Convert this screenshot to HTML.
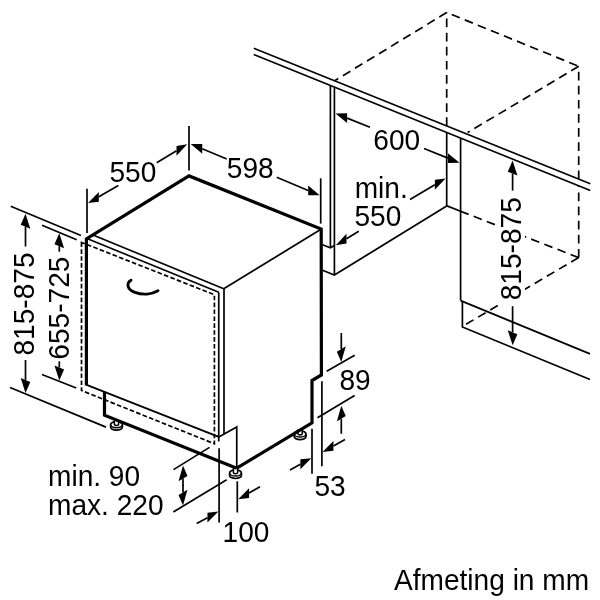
<!DOCTYPE html>
<html lang="nl">
<head>
<meta charset="utf-8">
<title>Afmeting in mm</title>
<style>
html,body{margin:0;padding:0;background:#fff;}
body{width:600px;height:600px;overflow:hidden;}
svg{display:block;}
svg text{font-family:"Liberation Sans",Arial,Helvetica,sans-serif;font-size:28.1px;fill:#000;stroke:none;}
</style>
</head>
<body>
<svg width="600" height="600" viewBox="0 0 600 600">
<rect x="0" y="0" width="600" height="600" fill="#fff"/>
<g stroke="#000" fill="none" opacity="0.999">
<path d="M446.7,12.5 L335,80.5" stroke-width="1.7" stroke-dasharray="8.7 5.4"/>
<path d="M446.7,12.5 L578.7,66.3" stroke-width="1.7" stroke-dasharray="8.7 5.4" stroke-dashoffset="8.7"/>
<path d="M446.7,126 L446.7,12.5" stroke-width="1.7" stroke-dasharray="8.7 5.4"/>
<path d="M578.7,66.3 L467.6,132.6" stroke-width="1.7" stroke-dasharray="8.7 5.4"/>
<path d="M578.7,66.3 L578.7,182" stroke-width="1.7" stroke-dasharray="8.7 5.4" stroke-dashoffset="8.7"/>
<path d="M578.7,257.6 L578.7,186" stroke-width="1.7" stroke-dasharray="8.7 5.4"/>
<path d="M460.5,211.2 L500,226.6" stroke-width="1.7" stroke-dasharray="8.7 5.4"/>
<path d="M578.7,257.6 L524,236.3" stroke-width="1.7" stroke-dasharray="8.7 5.4"/>
<path d="M578.7,257.6 L524,289.7" stroke-width="1.7" stroke-dasharray="8.7 5.4"/>
<path d="M466,324.3 L500,304.2" stroke-width="1.7" stroke-dasharray="8.7 5.4"/>
<line x1="447" y1="205.9" x2="460.5" y2="211.2" stroke-width="1.7"/>
<polygon points="253.75,48.2 590.3,183.8 590.3,190.5 253.75,54.5" fill="#fff" stroke="none"/>
<line x1="253.75" y1="48.2" x2="590.3" y2="183.8" stroke-width="1.7"/>
<line x1="253.75" y1="54.5" x2="590.3" y2="190.5" stroke-width="1.7"/>
<line x1="330.4" y1="86" x2="330.4" y2="247.6" stroke-width="1.7"/>
<line x1="334.4" y1="87.5" x2="334.4" y2="275" stroke-width="1.7"/>
<path d="M322.5,244.8 L330.4,247.8 L334.4,245.4" stroke-width="1.7"/>
<path d="M322.5,270.2 L334.4,275 L446.7,206" stroke-width="1.7"/>
<line x1="446.7" y1="132.5" x2="446.7" y2="206" stroke-width="1.7"/>
<line x1="460.6" y1="138" x2="460.6" y2="300.5" stroke-width="1.7"/>
<path d="M460.6,300.6 L590,353.9" stroke-width="1.7"/>
<path d="M462.4,301.2 L462.4,327 L590,379.5" stroke-width="1.7"/>
<g transform="translate(116.5 425.9)"><path d="M-5.9,-1.3 L-5.9,1.2 A5.9,3.1 0 0 0 5.9,1.2 L5.9,-1.3 A5.9,3.1 0 0 0 -5.9,-1.3 Z" fill="#fff" stroke-width="1.7"/><path d="M-5.9,-1.3 A5.9,3.1 0 0 0 5.9,-1.3" stroke-width="1.5"/><path d="M-2.1,-6 L-2.1,-1.6 A2.1,1.2 0 0 0 2.1,-1.6 L2.1,-6" fill="#fff" stroke-width="1.5"/></g>
<g transform="translate(235.5 474.2)"><path d="M-5.9,-1.3 L-5.9,1.2 A5.9,3.1 0 0 0 5.9,1.2 L5.9,-1.3 A5.9,3.1 0 0 0 -5.9,-1.3 Z" fill="#fff" stroke-width="1.7"/><path d="M-5.9,-1.3 A5.9,3.1 0 0 0 5.9,-1.3" stroke-width="1.5"/><path d="M-2.1,-6 L-2.1,-1.6 A2.1,1.2 0 0 0 2.1,-1.6 L2.1,-6" fill="#fff" stroke-width="1.5"/></g>
<g transform="translate(300.1 435.3)"><path d="M-5.9,-1.3 L-5.9,1.2 A5.9,3.1 0 0 0 5.9,1.2 L5.9,-1.3 A5.9,3.1 0 0 0 -5.9,-1.3 Z" fill="#fff" stroke-width="1.7"/><path d="M-5.9,-1.3 A5.9,3.1 0 0 0 5.9,-1.3" stroke-width="1.5"/><path d="M-2.1,-6 L-2.1,-1.6 A2.1,1.2 0 0 0 2.1,-1.6 L2.1,-6" fill="#fff" stroke-width="1.5"/></g>
<line x1="93" y1="235" x2="223.75" y2="288.75" stroke-width="1.7"/>
<line x1="223.75" y1="288.75" x2="320.6" y2="229.6" stroke-width="1.7"/>
<line x1="87.5" y1="238.7" x2="218.75" y2="292.25" stroke-width="1.7"/>
<line x1="224" y1="288.75" x2="224" y2="433.9" stroke-width="1.7"/>
<line x1="218.75" y1="292.25" x2="218.75" y2="441.5" stroke-width="1.7"/>
<path d="M218.75,436.9 L236.75,426.9 L236.75,467.5" stroke-width="1.7"/>
<path d="M81.5,242.4 L81.5,390.5 L214.4,443.75 L214.4,294.7 Z" stroke-width="1.7" stroke-dasharray="4.6 2.3"/>
<path d="M86,384.6 L218.75,436.9" stroke-width="1.85"/>
<path d="M236.75,468.2 L104.5,415.2 L104.5,391.8" stroke-width="3.2"/>
<path d="M86.4,385.6 L86.4,238.9 L189,175.9 L321.2,229.1 L321.4,375 L312,380.5 L312,422.8 L236.75,468.2" stroke-width="3.2"/>
<path d="M131,280.2 C126,283.2 127,289.4 135,292.4 C143,295.4 152,294.4 158,290.8" stroke-width="2.9" stroke-linecap="round"/>
<line x1="87" y1="188.7" x2="87" y2="233" stroke-width="1.7"/>
<line x1="189" y1="126" x2="189" y2="170.6" stroke-width="1.7"/>
<line x1="118.3" y1="185.6" x2="98.84" y2="196.78" stroke-width="1.7"/>
<polygon points="88.00,203.00 98.84,201.68 98.84,191.88" fill="#000" stroke="none"/>
<line x1="156.7" y1="162.8" x2="176.51" y2="150.78" stroke-width="1.7"/>
<polygon points="187.20,144.30 176.51,155.68 176.51,145.88" fill="#000" stroke="none"/>
<text transform="translate(109.5 182.4) scale(1 1.025)">550</text>
<line x1="320.7" y1="178.3" x2="320.7" y2="223.6" stroke-width="1.7"/>
<line x1="226.7" y1="159" x2="202.24" y2="148.81" stroke-width="1.7"/>
<polygon points="190.70,144.00 202.24,153.71 202.24,143.91" fill="#000" stroke="none"/>
<line x1="276.7" y1="177.2" x2="308.18" y2="190.45" stroke-width="1.7"/>
<polygon points="319.70,195.30 308.18,195.35 308.18,185.55" fill="#000" stroke="none"/>
<text transform="translate(226.8 178) scale(1 1.025)">598</text>
<line x1="370" y1="127.2" x2="347.12" y2="118.11" stroke-width="1.7"/>
<polygon points="335.50,113.50 347.12,123.01 347.12,113.21" fill="#000" stroke="none"/>
<line x1="424" y1="148.5" x2="447.91" y2="158.13" stroke-width="1.7"/>
<polygon points="459.50,162.80 447.91,163.03 447.91,153.23" fill="#000" stroke="none"/>
<text transform="translate(373.3 149.6) scale(1 1.025)">600</text>
<line x1="358.75" y1="231.25" x2="346.48" y2="238.71" stroke-width="1.7"/>
<polygon points="335.80,245.20 346.48,243.61 346.48,233.81" fill="#000" stroke="none"/>
<line x1="410" y1="199.5" x2="434.85" y2="184.77" stroke-width="1.7"/>
<polygon points="445.60,178.40 434.85,189.67 434.85,179.87" fill="#000" stroke="none"/>
<text transform="translate(354.7 197.5) scale(1 1.025)">min.</text>
<text transform="translate(354.4 225.9) scale(1 1.025)">550</text>
<line x1="10.7" y1="206.3" x2="81" y2="235.5" stroke-width="1.7"/>
<line x1="10" y1="387.5" x2="106" y2="427.1" stroke-width="1.7"/>
<line x1="25.5" y1="246.5" x2="25.5" y2="226.7" stroke-width="1.7"/>
<polygon points="25.50,213.70 30.32,228.66 20.68,224.74" fill="#000" stroke="none"/>
<line x1="25.5" y1="360" x2="25.5" y2="380.0" stroke-width="1.7"/>
<polygon points="25.50,393.00 30.32,381.96 20.68,378.04" fill="#000" stroke="none"/>
<text transform="translate(34 355.5) rotate(-90) scale(1 1.025)">815-875</text>
<line x1="42" y1="225.3" x2="76.7" y2="239.7" stroke-width="1.7"/>
<line x1="42" y1="374.5" x2="76.25" y2="388" stroke-width="1.7"/>
<line x1="59.3" y1="251.7" x2="59.3" y2="246.3" stroke-width="1.7"/>
<polygon points="59.30,233.30 64.12,248.26 54.48,244.34" fill="#000" stroke="none"/>
<line x1="59.3" y1="361.3" x2="59.3" y2="367.5" stroke-width="1.7"/>
<polygon points="59.30,380.50 64.12,369.46 54.48,365.54" fill="#000" stroke="none"/>
<text transform="translate(68.75 359.7) rotate(-90) scale(1 1.025)">655-725</text>
<rect x="499" y="196" width="26" height="106" fill="#fff" stroke="none"/>
<line x1="512.6" y1="190.6" x2="512.6" y2="173.6" stroke-width="1.7"/>
<polygon points="512.60,160.60 517.42,175.56 507.78,171.64" fill="#000" stroke="none"/>
<line x1="512.6" y1="306.2" x2="512.6" y2="332.2" stroke-width="1.7"/>
<polygon points="512.60,345.20 517.42,334.16 507.78,330.24" fill="#000" stroke="none"/>
<text transform="translate(521.25 300.3) rotate(-90) scale(1 1.025)">815-875</text>
<line x1="326.7" y1="371.2" x2="354.7" y2="355.2" stroke-width="1.7"/>
<line x1="317.5" y1="417.8" x2="354.6" y2="395.6" stroke-width="1.7"/>
<line x1="341.3" y1="333" x2="341.3" y2="349.0" stroke-width="1.7"/>
<polygon points="341.30,362.00 345.76,346.32 336.84,351.68" fill="#000" stroke="none"/>
<line x1="341.3" y1="433.75" x2="341.3" y2="418.7" stroke-width="1.7"/>
<polygon points="341.30,405.70 345.76,416.02 336.84,421.38" fill="#000" stroke="none"/>
<text transform="translate(339.5 390) scale(1 1.025)">89</text>
<line x1="312" y1="428.75" x2="312" y2="473.75" stroke-width="1.7"/>
<line x1="321.9" y1="381.25" x2="321.9" y2="466.25" stroke-width="1.7"/>
<line x1="345" y1="439.5" x2="333.43" y2="445.93" stroke-width="1.7"/>
<polygon points="322.50,452.00 333.43,450.83 333.43,441.03" fill="#000" stroke="none"/>
<line x1="290" y1="470" x2="300.37" y2="464.26" stroke-width="1.7"/>
<polygon points="311.30,458.20 300.37,469.16 300.37,459.36" fill="#000" stroke="none"/>
<text transform="translate(314.5 496) scale(1 1.025)">53</text>
<line x1="173.5" y1="469.6" x2="209.5" y2="447.4" stroke-width="1.7"/>
<line x1="173.3" y1="512" x2="226.7" y2="479.7" stroke-width="1.7"/>
<line x1="183" y1="486" x2="183.0" y2="478.6" stroke-width="1.7"/>
<polygon points="183.00,465.60 187.46,475.92 178.54,481.28" fill="#000" stroke="none"/>
<line x1="183" y1="485" x2="183.0" y2="492.4" stroke-width="1.7"/>
<polygon points="183.00,505.40 187.46,489.72 178.54,495.08" fill="#000" stroke="none"/>
<text transform="translate(48 485.9) scale(1 1.025)">min. 90</text>
<text transform="translate(48 515) scale(1 1.025)">max. 220</text>
<line x1="219.1" y1="448.3" x2="219.1" y2="522.5" stroke-width="1.7"/>
<line x1="237.3" y1="481.3" x2="237.3" y2="512.5" stroke-width="1.7"/>
<line x1="260" y1="486.8" x2="249.04" y2="493.08" stroke-width="1.7"/>
<polygon points="238.20,499.30 249.04,497.98 249.04,488.18" fill="#000" stroke="none"/>
<line x1="196.7" y1="523.6" x2="207.46" y2="517.65" stroke-width="1.7"/>
<polygon points="218.40,511.60 207.46,522.55 207.46,512.75" fill="#000" stroke="none"/>
<text transform="translate(222.6 541.5) scale(1 1.025)">100</text>
<text transform="translate(394 590) scale(1 1.025)">Afmeting in mm</text>
</g>
</svg>
</body>
</html>
